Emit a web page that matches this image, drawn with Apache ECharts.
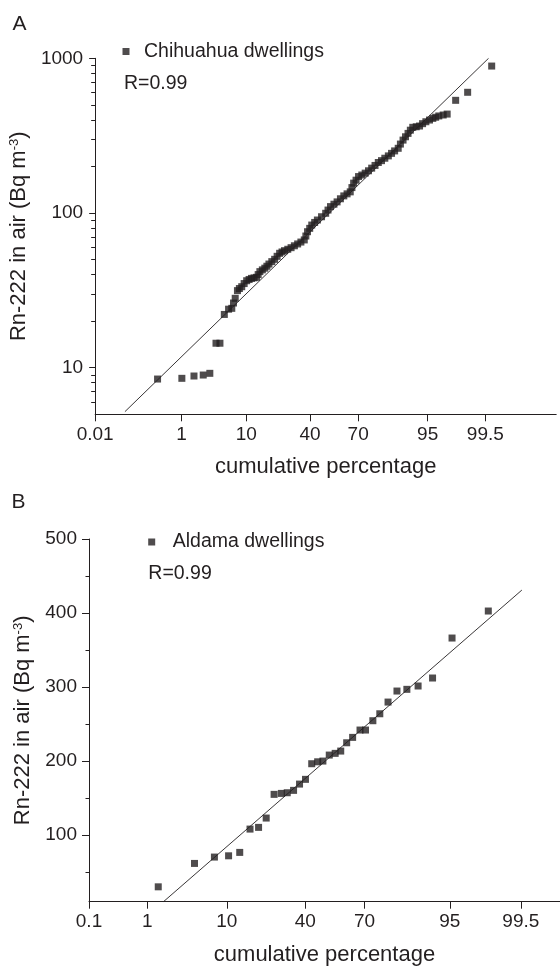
<!DOCTYPE html>
<html>
<head>
<meta charset="utf-8">
<script src="https://cdn.jsdelivr.net/npm/echarts@6/dist/echarts.min.js"></script>
<style>html,body{margin:0;padding:0;background:#fff}#c{width:560px;height:968px}</style>
</head>
<body>
<div id="c"></div>
<script>
// ---- data (cumulative percentage, Rn-222 in Bq m-3) ----
const tickLabelsA = ['0.01', '1', '10', '40', '70', '95', '99.5'];
const tickLabelsB = ['0.1', '1', '10', '40', '70', '95', '99.5'];
const yTicksA = [10, 100, 1000];
const yMinorA = [6, 7, 8, 9, 20, 30, 40, 50, 60, 70, 80, 90, 200, 300, 400, 500, 600, 700, 800, 900];
const yTicksB = [100, 200, 300, 400, 500];
const yMinorB = [50, 150, 250, 350, 450];

const chihuahuaPct = [0.334, 1.016, 1.68, 2.41, 3.08, 3.84, 4.40, 5.10, 5.86, 6.49, 6.85, 7.22, 7.73, 8.19, 8.78, 9.42, 10.12, 10.83, 11.57, 12.39, 13.22, 13.80, 14.42, 15.34, 16.30, 17.14, 18.0, 19.24, 20.52, 21.67, 22.87, 24.07, 25.32, 27.04, 28.83, 30.68, 32.55, 34.46, 36.48, 37.46, 38.48, 39.83, 41.11, 42.94, 44.68, 47.33, 50.0, 51.5, 53.1, 55.3, 57.3, 59.4, 61.5, 63.5, 65.4, 66.4, 67.4, 68.8, 70.2, 72.0, 73.8, 75.5, 77.1, 78.7, 80.2, 81.6, 83.0, 84.4, 85.6, 86.7, 87.9, 88.6, 89.4, 90.1, 90.8, 91.4, 92.0, 92.8, 93.5, 94.1, 94.7, 95.3, 95.8, 96.2, 96.6, 97.1, 97.5, 98.2, 98.9, 99.63];
const chihuahuaRn = [8.45, 8.54, 8.84, 8.97, 9.2, 14.4, 14.4, 22.1, 23.9, 24.2, 26.2, 28.1, 31.5, 32.5, 33.4, 35.0, 36.5, 37.2, 37.8, 38.1, 38.4, 40.0, 41.8, 42.9, 44.0, 45.3, 46.8, 48.5, 50.2, 52.5, 54.9, 56.0, 57.1, 58.3, 59.7, 61.4, 63.1, 64.9, 67.0, 71.0, 75.7, 79.6, 83.6, 86.9, 90.1, 94.6, 99.6, 104.5, 110, 114, 118, 123.6, 129, 133, 137, 146, 156, 163, 172, 176, 181, 187.5, 195, 203, 212, 218, 226, 234, 243, 252, 262, 279, 296, 311, 327, 343, 358, 361, 365, 378, 389, 399, 409, 416, 424, 430, 436, 535, 603, 891];
const fitAPct = [0.06, 99.57];
const fitARn = [5.2, 1000];

const aldamaPct = [1.457, 4.40, 7.43, 10.41, 13.3, 16.42, 19.35, 22.21, 25.42, 28.56, 31.25, 34.24, 37.16, 40.14, 43.34, 46.42, 49.16, 52.49, 55.57, 58.43, 61.45, 64.4, 67.94, 70.47, 73.72, 76.6, 79.78, 82.92, 86.01, 89.03, 92.19, 95.29, 98.42];
const aldamaRn = [30.1, 61.7, 70.3, 72.0, 76.6, 108.1, 110.4, 123, 155, 156.3, 157.2, 160.4, 168.9, 175.3, 196.4, 199, 200, 208.1, 210.4, 213.5, 224.7, 232, 241.9, 241.9, 254.5, 263.9, 279.7, 294.6, 296.9, 301.4, 312.2, 366.2, 402.7];
const fitBPct = [1.73, 99.52];
const fitBRn = [10, 431];

// ---- probability (probit) axis transform ----
function probit(p) {
  const a = [-3.969683028665376e+01, 2.209460984245205e+02, -2.759285104469687e+02, 1.383577518672690e+02, -3.066479806614716e+01, 2.506628277459239e+00];
  const b = [-5.447609879822406e+01, 1.615858368580409e+02, -1.556989798598866e+02, 6.680131188771972e+01, -1.328068155288572e+01];
  const c = [-7.784894002430293e-03, -3.223964580411365e-01, -2.400758277161838e+00, -2.549732539343734e+00, 4.374664141464968e+00, 2.938163982698783e+00];
  const d = [7.784695709041462e-03, 3.224671290700398e-01, 2.445134137142996e+00, 3.754408661907416e+00];
  const pl = 0.02425, ph = 1 - pl;
  let q, r;
  if (p < pl) {
    q = Math.sqrt(-2 * Math.log(p));
    return (((((c[0]*q+c[1])*q+c[2])*q+c[3])*q+c[4])*q+c[5]) / ((((d[0]*q+d[1])*q+d[2])*q+d[3])*q+1);
  }
  if (p <= ph) {
    q = p - 0.5; r = q * q;
    return (((((a[0]*r+a[1])*r+a[2])*r+a[3])*r+a[4])*r+a[5])*q / (((((b[0]*r+b[1])*r+b[2])*r+b[3])*r+b[4])*r+1);
  }
  q = Math.sqrt(-2 * Math.log(1 - p));
  return -(((((c[0]*q+c[1])*q+c[2])*q+c[3])*q+c[4])*q+c[5]) / ((((d[0]*q+d[1])*q+d[2])*q+d[3])*q+1);
}
const pz = pct => probit(pct / 100);
const pairs = (xs, ys) => xs.map((x, i) => [pz(x), ys[i]]);
const tickPos = labels => labels.map(l => pz(parseFloat(l)));
function labelFmt(labels) {
  const pos = tickPos(labels);
  return v => {
    let best = 0;
    pos.forEach((p, i) => { if (Math.abs(p - v) < Math.abs(pos[best] - v)) best = i; });
    return labels[best];
  };
}

const FONT = '"Liberation Sans", Arial, Helvetica, sans-serif';
const INK = '#231f20';

function xAxisDef(grid, labels, min, max) {
  const pos = tickPos(labels);
  return {
    type: 'value', gridIndex: grid, min: min, max: max, position: 'bottom',
    name: 'cumulative percentage', nameLocation: 'middle', nameGap: 42,
    nameTextStyle: { fontSize: 22, color: INK, fontFamily: FONT },
    axisLine: { onZero: false, lineStyle: { color: INK, width: 1 } },
    axisTick: { customValues: pos, length: 7, lineStyle: { color: INK } },
    axisLabel: { customValues: pos, formatter: labelFmt(labels), fontSize: 19, color: INK, fontFamily: FONT, margin: 11 },
    splitLine: { show: false }
  };
}
const yName = 'Rn-222 in air (Bq m{sup|-3})';
const yNameStyle = { fontSize: 22, color: INK, fontFamily: FONT, rich: { sup: { fontSize: 13, color: INK, fontFamily: FONT, verticalAlign: 'top' } } };
const plain = v => String(v);

const chart = echarts.init(document.getElementById('c'), null, { renderer: 'canvas' });
chart.setOption({
  animation: false,
  backgroundColor: '#fff',
  grid: [
    { left: 89.5, top: 58.3, width: 466.7, height: 356 },
    { left: 89, top: 539, width: 475.3, height: 362.7 }
  ],
  xAxis: [
    xAxisDef(0, tickLabelsA, pz(0.01), pz(99.99)),
    xAxisDef(1, tickLabelsB, pz(0.1), pz(99.9))
  ],
  yAxis: [
    {
      type: 'log', logBase: 10, gridIndex: 0, min: 5, max: 1000, position: 'left', offset: 0,
      name: yName, nameLocation: 'middle', nameGap: 55, nameTextStyle: yNameStyle,
      axisLine: { show: true, onZero: false, lineStyle: { color: INK, width: 1 } },
      axisTick: { customValues: yTicksA, length: 6, lineStyle: { color: INK } },
      axisLabel: { customValues: yTicksA, formatter: plain, fontSize: 19, color: INK, fontFamily: FONT, margin: 12 },
      splitLine: { show: false }
    },
    {
      type: 'log', logBase: 10, gridIndex: 0, min: 5, max: 1000, position: 'left', offset: 0,
      axisLine: { show: false, onZero: false },
      axisTick: { customValues: yMinorA, length: 4, lineStyle: { color: INK } },
      axisLabel: { show: false },
      splitLine: { show: false }
    },
    {
      type: 'value', gridIndex: 1, min: 10, max: 500, position: 'left', offset: 0,
      name: yName, nameLocation: 'middle', nameGap: 55, nameTextStyle: yNameStyle,
      axisLine: { show: true, onZero: false, lineStyle: { color: INK, width: 1 } },
      axisTick: { customValues: yTicksB, length: 7, lineStyle: { color: INK } },
      axisLabel: { customValues: yTicksB, formatter: plain, fontSize: 19, color: INK, fontFamily: FONT, margin: 12 },
      splitLine: { show: false }
    },
    {
      type: 'value', gridIndex: 1, min: 10, max: 500, position: 'left', offset: 0,
      axisLine: { show: false, onZero: false },
      axisTick: { customValues: yMinorB, length: 3.5, lineStyle: { color: INK } },
      axisLabel: { show: false },
      splitLine: { show: false }
    }
  ],
  legend: [
    {
      left: 122.5, top: 41.5, padding: 0, itemWidth: 7, itemHeight: 7, icon: 'rect',
      data: ['Chihuahua dwellings'],
      textStyle: { fontSize: 19.5, color: INK, fontFamily: FONT, padding: [0, 0, 0, 9.5] }
    },
    {
      left: 148.2, top: 532, padding: 0, itemWidth: 7, itemHeight: 7, icon: 'rect',
      data: ['Aldama dwellings'],
      textStyle: { fontSize: 19.5, color: INK, fontFamily: FONT, padding: [0, 0, 0, 12.5] }
    }
  ],
  graphic: [
    { type: 'text', x: 12.5, y: 24, style: { text: 'A', fontSize: 21, fontFamily: FONT, fill: INK, verticalAlign: 'middle' } },
    { type: 'text', x: 11.5, y: 502.5, style: { text: 'B', fontSize: 21, fontFamily: FONT, fill: INK, verticalAlign: 'middle' } },
    { type: 'text', x: 124, y: 83.5, style: { text: 'R=0.99', fontSize: 19.5, fontFamily: FONT, fill: INK, verticalAlign: 'middle' } },
    { type: 'text', x: 148.3, y: 574, style: { text: 'R=0.99', fontSize: 19.5, fontFamily: FONT, fill: INK, verticalAlign: 'middle' } }
  ],
  series: [
    {
      name: 'Chihuahua dwellings', type: 'scatter', xAxisIndex: 0, yAxisIndex: 0,
      symbol: 'rect', symbolSize: 7, itemStyle: { color: INK },
      data: pairs(chihuahuaPct, chihuahuaRn), z: 3
    },
    {
      name: 'fitA', type: 'line', xAxisIndex: 0, yAxisIndex: 0, symbol: 'none',
      lineStyle: { color: INK, width: 0.9 }, data: pairs(fitAPct, fitARn), z: 2
    },
    {
      name: 'Aldama dwellings', type: 'scatter', xAxisIndex: 1, yAxisIndex: 2,
      symbol: 'rect', symbolSize: 7, itemStyle: { color: INK },
      data: pairs(aldamaPct, aldamaRn), z: 3
    },
    {
      name: 'fitB', type: 'line', xAxisIndex: 1, yAxisIndex: 2, symbol: 'none',
      lineStyle: { color: INK, width: 0.9 }, data: pairs(fitBPct, fitBRn), z: 2
    }
  ]
});
</script>
</body>
</html>
